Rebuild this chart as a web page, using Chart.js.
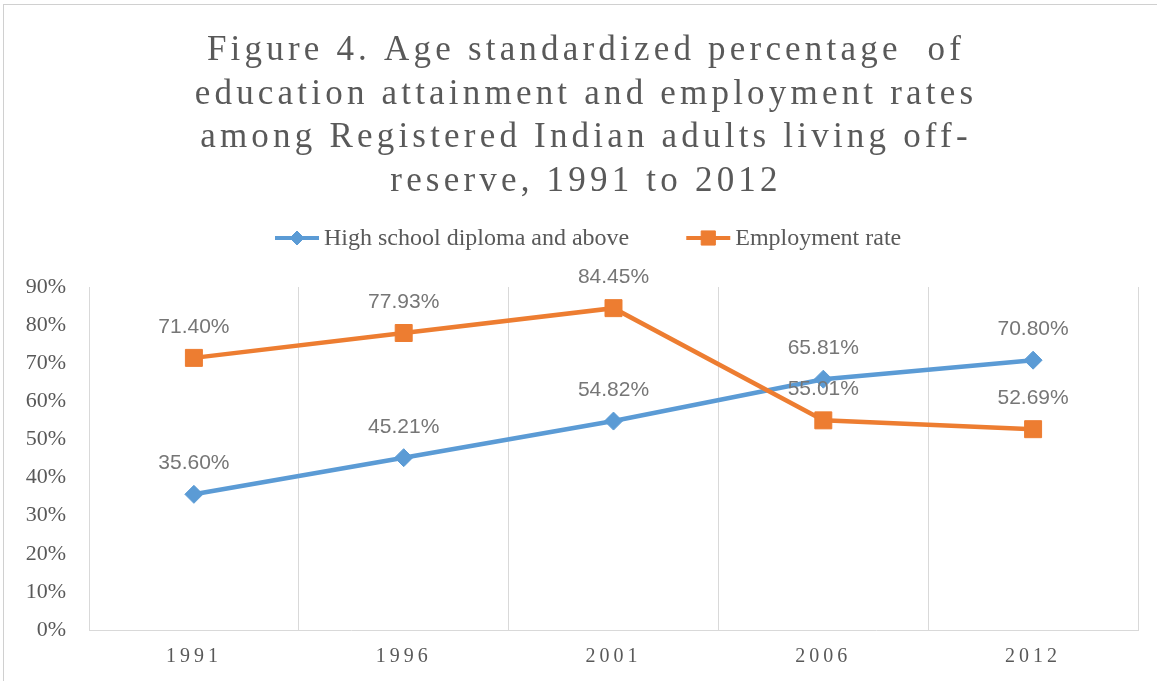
<!DOCTYPE html>
<html>
<head>
<meta charset="utf-8">
<script src="https://cdn.jsdelivr.net/npm/chart.js@4.4.1/dist/chart.umd.min.js"></script>
<style>
  html, body { margin: 0; padding: 0; background: #fff; overflow: hidden; }
  #wrap { position: relative; width: 1157px; height: 681px; }
  #frame { position: absolute; left: 3px; top: 4px; width: 1200px; height: 700px; border: 1px solid #d0d0d0; box-sizing: border-box; }
  canvas { position: absolute; left: 0; top: 0; }
</style>
</head>
<body>
<div id="wrap">
  <div id="frame"></div>
  <canvas id="chart" width="1157" height="681"></canvas>
</div>
<script>
// data
const years = ['1991', '1996', '2001', '2006', '2012'];
const highSchool = [35.60, 45.21, 54.82, 65.81, 70.80];
const employment = [71.40, 77.93, 84.45, 55.01, 52.69];
const seriesNames = ['High school diploma and above', 'Employment rate'];
const titleLines = [
  'Figure 4. Age standardized percentage  of',
  'education attainment and employment rates',
  'among Registered Indian adults living off-',
  'reserve, 1991 to 2012'
];

const BLUE = '#5B9BD5';
const ORANGE = '#ED7D31';
const TEXT = '#595959';

// title with letter spacing, drawn on the canvas
const titlePlugin = {
  id: 'figTitle',
  afterDraw(chart) {
    const ctx = chart.ctx;
    ctx.save();
    ctx.font = '35px "Liberation Serif"';
    ctx.fillStyle = TEXT;
    ctx.textAlign = 'center';
    ctx.textBaseline = 'alphabetic';
    ctx.letterSpacing = '4.2px';
    titleLines.forEach((t, i) => ctx.fillText(t, 586, 60 + i * 43.5));
    ctx.restore();
  }
};

// legend: line with marker, like the office chart
const legendPlugin = {
  id: 'lineLegend',
  afterDraw(chart) {
    const ctx = chart.ctx;
    const y = 238;
    let x = 275;
    ctx.save();
    ctx.font = '24px "Liberation Serif"';
    ctx.textBaseline = 'middle';
    ctx.textAlign = 'left';
    chart.data.datasets.forEach((ds, i) => {
      ctx.strokeStyle = ds.borderColor;
      ctx.fillStyle = ds.borderColor;
      ctx.lineWidth = 4;
      ctx.beginPath();
      ctx.moveTo(x, y);
      ctx.lineTo(x + 44, y);
      ctx.stroke();
      ctx.lineWidth = 1;
      Chart.helpers.drawPoint(ctx, {
        pointStyle: ds.pointStyle,
        radius: i === 0 ? 7 : 10,
        borderWidth: 1
      }, x + 22, y);
      ctx.fillStyle = TEXT;
      ctx.fillText(ds.label, x + 49, y + 1);
      x += 49 + ctx.measureText(ds.label).width + 57;
    });
    ctx.restore();
  }
};

// value labels above the points
const valueLabels = {
  id: 'valueLabels',
  afterDatasetsDraw(chart) {
    const ctx = chart.ctx;
    ctx.save();
    ctx.font = '21px "Liberation Sans"';
    ctx.fillStyle = '#767676';
    ctx.textAlign = 'center';
    ctx.textBaseline = 'alphabetic';
    chart.data.datasets.forEach((ds, di) => {
      const meta = chart.getDatasetMeta(di);
      meta.data.forEach((pt, i) => {
        ctx.fillText(ds.data[i].toFixed(2) + '%', pt.x, pt.y - 25);
      });
    });
    ctx.restore();
  }
};

// spaced-out year labels on the x axis
const spacedXTicks = {
  id: 'spacedXTicks',
  afterLayout(chart) {
    const sc = chart.scales.x;
    if (!sc || sc._spaced) return;
    const orig = sc.drawLabels.bind(sc);
    sc.drawLabels = function (area) {
      chart.ctx.save();
      chart.ctx.letterSpacing = '4px';
      orig(area);
      chart.ctx.restore();
    };
    sc._spaced = true;
  }
};

new Chart(document.getElementById('chart'), {
  type: 'line',
  data: {
    labels: years,
    datasets: [
      {
        label: seriesNames[0],
        data: highSchool,
        borderColor: BLUE,
        backgroundColor: BLUE,
        borderWidth: 4.5,
        pointStyle: 'rectRot',
        pointRadius: 9,
        pointBorderWidth: 1,
        pointBackgroundColor: BLUE,
        tension: 0,
        order: 1
      },
      {
        label: seriesNames[1],
        data: employment,
        borderColor: ORANGE,
        backgroundColor: ORANGE,
        borderWidth: 4.5,
        pointStyle: 'rect',
        pointRadius: 12,
        pointBorderWidth: 1,
        pointBackgroundColor: ORANGE,
        tension: 0,
        order: 0
      }
    ]
  },
  options: {
    responsive: false,
    animation: false,
    devicePixelRatio: 1,
    layout: { padding: { top: 287, right: 19, left: 0, bottom: 0 } },
    plugins: {
      legend: { display: false },
      title: { display: false },
      tooltip: { enabled: false }
    },
    scales: {
      x: {
        offset: true,
        grid: { offset: true, color: '#d9d9d9', lineWidth: 1, drawTicks: false },
        border: { color: '#d9d9d9', width: 1 },
        ticks: { color: TEXT, font: { family: 'Liberation Serif', size: 20 }, padding: 15 },
        afterFit(s) { s.height = 51; }
      },
      y: {
        min: 0,
        max: 90,
        grid: { display: false, drawTicks: false },
        border: { display: false },
        ticks: {
          stepSize: 10,
          color: TEXT,
          font: { family: 'Liberation Serif', size: 22 },
          padding: 23,
          callback: v => v + '%'
        },
        afterFit(s) { s.width = 89; }
      }
    }
  },
  plugins: [spacedXTicks, valueLabels, titlePlugin, legendPlugin]
});
</script>
</body>
</html>
